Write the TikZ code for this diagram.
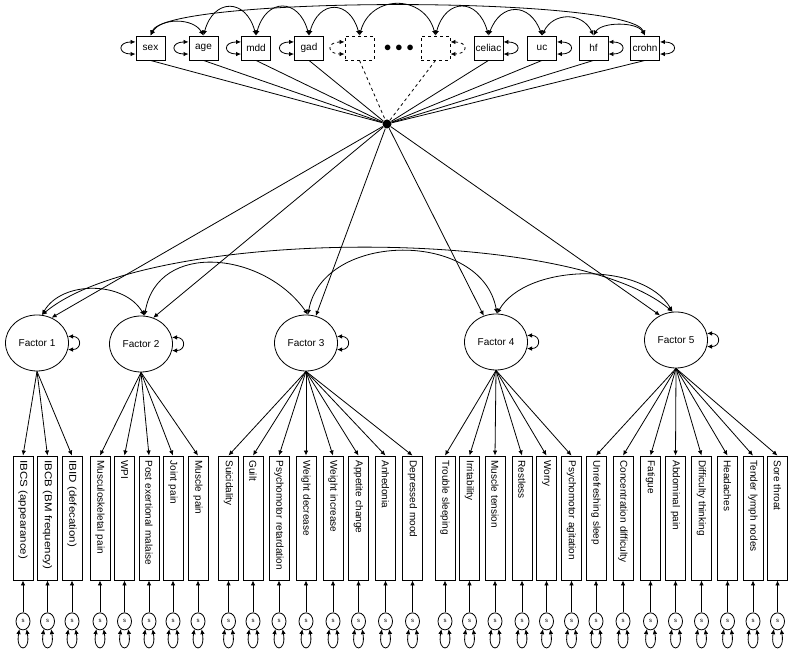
\documentclass[tikz,border=0pt]{standalone}
\usepackage{fontspec}
\setmainfont{Liberation Sans}
\newfontfamily\widefont[FakeStretch=1.15]{Liberation Sans}
\usetikzlibrary{arrows.meta,positioning,shapes.geometric}

\begin{document}
\begin{tikzpicture}[x=1pt,y=1pt,line width=0.8pt,
  obs/.style={draw,line width=0.9pt,minimum width=29pt,minimum height=24pt,inner sep=1pt,font=\fontsize{10}{12}\selectfont},
  ghost/.style={obs,dashed},
  factor/.style={draw,ellipse,minimum width=63pt,minimum height=56pt,inner sep=0pt,font=\fontsize{10}{12}\selectfont},
  ind/.style={draw,line width=0.9pt,rotate=-90,minimum height=20pt,text width=115pt,inner xsep=4.5pt,inner ysep=0pt,align=left,font=\fontsize{10}{11}\selectfont},
  err/.style={draw,ellipse,minimum width=14pt,minimum height=17pt,inner sep=0pt,font=\fontsize{6}{7}\selectfont},
  arr/.style={-{Latex[length=5pt,width=4.5pt]}},
  cov/.style={{Latex[length=5pt,width=4.5pt]}-{Latex[length=5pt,width=4.5pt]}}]
\useasboundingbox (0,0) rectangle (794,655);
% covariates
\node[obs] (sex) at (150.5,607){sex};
\node[obs] (age) at (203.5,607){age};
\node[obs] (mdd) at (256,607){mdd};
\node[obs] (gad) at (309,607){gad};
\node[ghost] (dA) at (359.5,607){};
\node (dots) at (399,607){\Large$\bullet\mkern1mu\bullet\mkern1mu\bullet$};
\node[ghost] (dB) at (435.5,607){};
\node[obs] (celiac) at (488.5,607){celiac};
\node[obs] (uc) at (542,607){uc};
\node[obs] (hf) at (593.5,607){hf};
\node[obs] (crohn) at (645,607){crohn};
\draw[cov](sex.158) to[out=180,in=180,distance=18pt] (sex.202);
\draw[cov](age.158) to[out=180,in=180,distance=18pt] (age.202);
\draw[cov](mdd.158) to[out=180,in=180,distance=18pt] (mdd.202);
\draw[cov](gad.158) to[out=180,in=180,distance=18pt] (gad.202);
\draw[cov,dashed](dA.158) to[out=180,in=180,distance=18pt] (dA.202);
\draw[cov,dashed](dB.22) to[out=0,in=0,distance=18pt] (dB.-22);
\draw[cov](celiac.22) to[out=0,in=0,distance=18pt] (celiac.-22);
\draw[cov](uc.22) to[out=0,in=0,distance=18pt] (uc.-22);
\draw[cov](hf.22) to[out=0,in=0,distance=18pt] (hf.-22);
\draw[cov](crohn.22) to[out=0,in=0,distance=18pt] (crohn.-22);
\draw[cov](sex.north) to[out=60,in=120] (age.north);
\draw[cov](age.north) to[out=75,in=105,looseness=1.9] (mdd.north);
\draw[cov](mdd.north) to[out=75,in=105,looseness=1.9] (gad.north);
\draw[cov](gad.north) to[out=75,in=105,looseness=1.9] (dA.north);
\draw[cov](dA.north) to[out=75,in=105,looseness=1.45] (dB.north);
\draw[cov](dB.north) to[out=75,in=105,looseness=1.9] (celiac.north);
\draw[cov](celiac.north) to[out=70,in=110,looseness=1.7] (uc.north);
\draw[cov](uc.north) to[out=65,in=115,looseness=1.3] (hf.north);
\draw[cov](hf.north) to[out=60,in=120,looseness=0.8] (crohn.north);
\draw[cov](sex.north) to[out=70,in=110,looseness=0.22] (crohn.north);
\node[circle,fill=black,inner sep=0pt,minimum size=9pt] (hub) at (387,531){};
\draw(sex.south)--(hub);\draw(age.south)--(hub);\draw(mdd.south)--(hub);\draw(gad.south)--(hub);
\draw[dashed](dA.south)--(hub);\draw[dashed](dB.south)--(hub);
\draw(celiac.south)--(hub);\draw(uc.south)--(hub);\draw(hf.south)--(hub);\draw(crohn.south)--(hub);
% factors
\node[factor] (f1) at (37,312){Factor 1};
\node[factor] (f2) at (141,311){Factor 2};
\node[factor] (f3) at (306,312){Factor 3};
\node[factor] (f4) at (496,313){Factor 4};
\node[factor] (f5) at (676,315){Factor 5};
\draw[arr](hub)--(f1.60);\draw[arr](hub)--(f2.65);\draw[arr](hub)--(f3.70);\draw[arr](hub)--(f4.115);\draw[arr](hub)--(f5.123);
\draw[cov](f1.80) to[out=60,in=120] (f2.83);
\draw[cov](f2.83) to[out=80,in=125,looseness=1.2] (f3.86);
\draw[cov](f3.86) to[out=80,in=100,looseness=1.15] (f4.88);
\draw[cov](f4.88) to[out=60,in=120,looseness=0.85] (f5.97);
\draw[cov](f1.80) to[out=40,in=140,looseness=0.55] (f5.97);
\draw[cov](f1.12) to[out=0,in=0,distance=14pt] (f1.-12);
\draw[cov](f2.12) to[out=0,in=0,distance=14pt] (f2.-12);
\draw[cov](f3.12) to[out=0,in=0,distance=14pt] (f3.-12);
\draw[cov](f4.12) to[out=0,in=0,distance=14pt] (f4.-12);
\draw[cov](f5.12) to[out=0,in=0,distance=14pt] (f5.-12);
% indicators
\node[ind] (ibcs) at (23,137){\widefont IBCS (appearance)};
\node[ind] (ibcb) at (47.5,137){\widefont IBCB (BM frequency)};
\node[ind] (ibid) at (72,137){\widefont IBID (defecation)};
\node[ind] (msk) at (100,137){Musculoskeletal pain};
\node[ind] (wpi) at (124.5,137){WPI};
\node[ind] (pem) at (149,137){Post exertional malaise};
\node[ind] (joint) at (173,137){Joint pain};
\node[ind] (mpain) at (198,137){Muscle pain};
\node[ind] (suic) at (228.5,137){Suicidality};
\node[ind] (guilt) at (253,137){Guilt};
\node[ind] (pret) at (279,137){Psychomotor retardation};
\node[ind] (wdec) at (306,137){Weight decrease};
\node[ind] (winc) at (333,137){Weight increase};
\node[ind] (appet) at (358.5,137){Appetite change};
\node[ind] (anhed) at (385.5,137){Anhedonia};
\node[ind] (dmood) at (412.5,137){Depressed mood};
\node[ind] (tsleep) at (445,137){Trouble sleeping};
\node[ind] (irrit) at (469.5,137){Irritability};
\node[ind] (mtens) at (495,137){Muscle tension};
\node[ind] (restl) at (522,137){Restless};
\node[ind] (worry) at (546.5,137){Worry};
\node[ind] (pagit) at (571.5,137){Psychomotor agitation};
\node[ind] (unref) at (596,137){Unrefreshing sleep};
\node[ind] (conc) at (623,137){Concentration difficulty};
\node[ind] (fatig) at (650.5,137){Fatigue};
\node[ind] (abdp) at (675.5,137){Abdominal pain};
\node[ind] (diff) at (701.5,137){Difficulty thinking};
\node[ind] (head) at (727.5,137){Headaches};
\node[ind] (lymph) at (753,137){Tender lymph nodes};
\node[ind] (sore) at (777.5,137){Sore throat};
\draw[arr](f1.south)--(ibcs.west);\draw[arr](f1.south)--(ibcb.west);\draw[arr](f1.south)--(ibid.west);
\draw[arr](f2.south)--(msk.west);\draw[arr](f2.south)--(wpi.west);\draw[arr](f2.south)--(pem.west);\draw[arr](f2.south)--(joint.west);\draw[arr](f2.south)--(mpain.west);
\draw[arr](f3.south)--(suic.west);\draw[arr](f3.south)--(guilt.west);\draw[arr](f3.south)--(pret.west);\draw[arr](f3.south)--(wdec.west);
\draw[arr](f3.south)--(winc.west);\draw[arr](f3.south)--(appet.west);\draw[arr](f3.south)--(anhed.west);\draw[arr](f3.south)--(dmood.west);
\draw[arr](f4.south)--(tsleep.west);\draw[arr](f4.south)--(irrit.west);\draw[arr](f4.south)--(mtens.west);
\draw[arr](f4.south)--(restl.west);\draw[arr](f4.south)--(worry.west);\draw[arr](f4.south)--(pagit.west);
\draw[arr](f5.south)--(unref.west);\draw[arr](f5.south)--(conc.west);\draw[arr](f5.south)--(fatig.west);\draw[arr](f5.south)--(abdp.west);
\draw[arr](f5.south)--(diff.west);\draw[arr](f5.south)--(head.west);\draw[arr](f5.south)--(lymph.west);\draw[arr](f5.south)--(sore.west);
% residuals
\foreach \n in {ibcs,ibcb,ibid,msk,wpi,pem,joint,mpain,suic,guilt,pret,wdec,winc,appet,anhed,dmood,
  tsleep,irrit,mtens,restl,worry,pagit,unref,conc,fatig,abdp,diff,head,lymph,sore}{
  \node[err,below=32pt of \n.east] (e\n){s};
  \draw[arr](e\n)--(\n.east);
  \draw[cov](e\n.-115) to[out=-100,in=-80,distance=24pt] (e\n.-65);
}
\end{tikzpicture}
\end{document}
